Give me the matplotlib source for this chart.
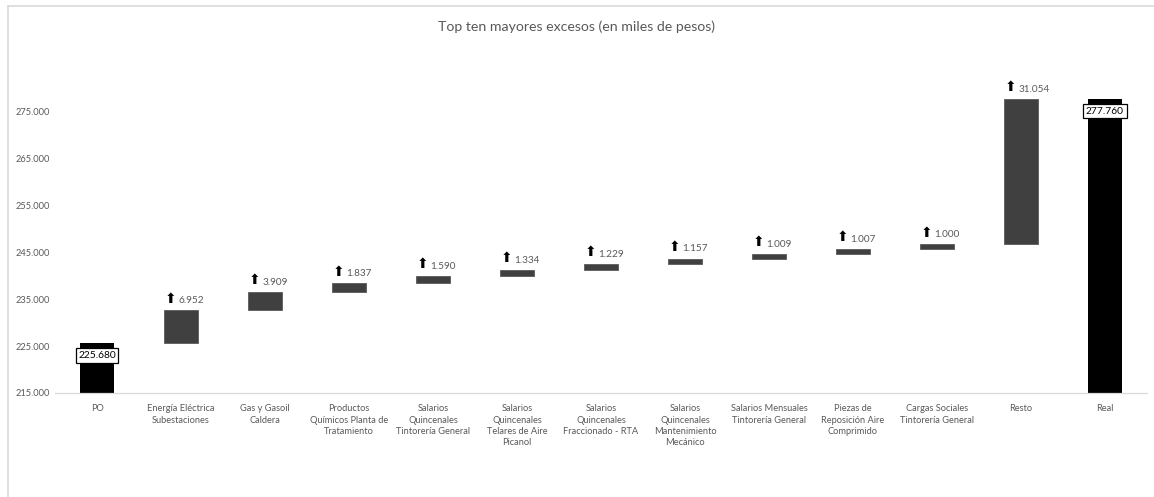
import matplotlib
matplotlib.use("Agg")
import matplotlib.pyplot as plt
from matplotlib.lines import Line2D
from matplotlib.ticker import FuncFormatter

categories = [
    "PO",
    "Energía Eléctrica\nSubestaciones",
    "Gas y Gasoil\nCaldera",
    "Productos\nQuímicos Planta de\nTratamiento",
    "Salarios\nQuincenales\nTintorería General",
    "Salarios\nQuincenales\nTelares de Aire\nPicanol",
    "Salarios\nQuincenales\nFraccionado - RTA",
    "Salarios\nQuincenales\nMantenimiento\nMecánico",
    "Salarios Mensuales\nTintorería General",
    "Piezas de\nReposición Aire\nComprimido",
    "Cargas Sociales\nTintorería General",
    "Resto",
    "Real",
]
start_value = 225680
increments = [6952, 3909, 1837, 1590, 1334, 1229, 1157, 1009, 1007, 1000, 31054]
end_value = 277760
y_ticks = [215000, 225000, 235000, 245000, 255000, 265000, 275000]

plt.rcParams['font.family'] = ['Lato', 'DejaVu Sans']

W, H = 1154, 497
fig = plt.figure(figsize=(W / 100, H / 100), dpi=100)
ax = fig.add_axes([55 / W, 1 - 393 / H, (1147 - 55) / W, (393 - 65) / H])

ymin, ymax = 215000, 285000
bw = 0.405
txt_gray = "#595959"

# totals
ax.bar(0, start_value - ymin, bottom=ymin, width=bw, color="black", zorder=2)
ax.bar(len(categories) - 1, end_value - ymin, bottom=ymin, width=bw, color="black", zorder=2)
for xi, v in [(0, start_value), (len(categories) - 1, end_value)]:
    ax.annotate(f"{v/1000:.3f}", (xi, v), xytext=(0, -9), textcoords="offset points",
                ha="center", va="center", fontsize=7.4, color="black", zorder=4,
                bbox=dict(boxstyle="square,pad=0.25", fc="white", ec="black", lw=0.9))

# increments
cum = start_value
for i, inc in enumerate(increments, start=1):
    ax.bar(i, inc, bottom=cum, width=bw, color="#404040", edgecolor="#5a5a5a", lw=0.6, zorder=2)
    top = cum + inc
    ax.annotate("⬆", (i - bw / 2, top), xytext=(0.5, 8.5), textcoords="offset points",
                ha="left", va="center", fontsize=10, color="black",
                family=['DejaVu Sans'], zorder=4)
    ax.annotate(f"{inc/1000:.3f}", (i - bw / 2, top), xytext=(10.5, 7), textcoords="offset points",
                ha="left", va="center", fontsize=7.2, color=txt_gray, zorder=4)
    cum = top

ax.set_xlim(-0.5, len(categories) - 0.5)
ax.set_ylim(ymin, ymax)
ax.set_xticks(range(len(categories)))
ax.set_xticklabels(categories, fontsize=6.7, color=txt_gray, linespacing=1.35, va="top")
ax.set_yticks(y_ticks)
ax.yaxis.set_major_formatter(FuncFormatter(lambda v, p: f"{v/1000:.3f}"))
ax.tick_params(axis="y", labelsize=6.7, labelcolor=txt_gray, length=0, pad=3.5)
ax.tick_params(axis="x", length=0, pad=8)
for s in ["top", "right", "left"]:
    ax.spines[s].set_visible(False)
ax.spines["bottom"].set_color("#d9d9d9")
ax.spines["bottom"].set_linewidth(0.9)

fig.text(0.5, 1 - 27 / H, "Top ten mayores excesos (en miles de pesos)",
         ha="center", va="center", fontsize=10.2, color=txt_gray)

# chart frame
fig.add_artist(Line2D([8 / W, 1], [1 - 6 / H, 1 - 6 / H], color="#d9d9d9", lw=1.2))
fig.add_artist(Line2D([8 / W, 8 / W], [0, 1 - 6 / H], color="#d9d9d9", lw=1.2))

fig.savefig("out.png", dpi=100)
